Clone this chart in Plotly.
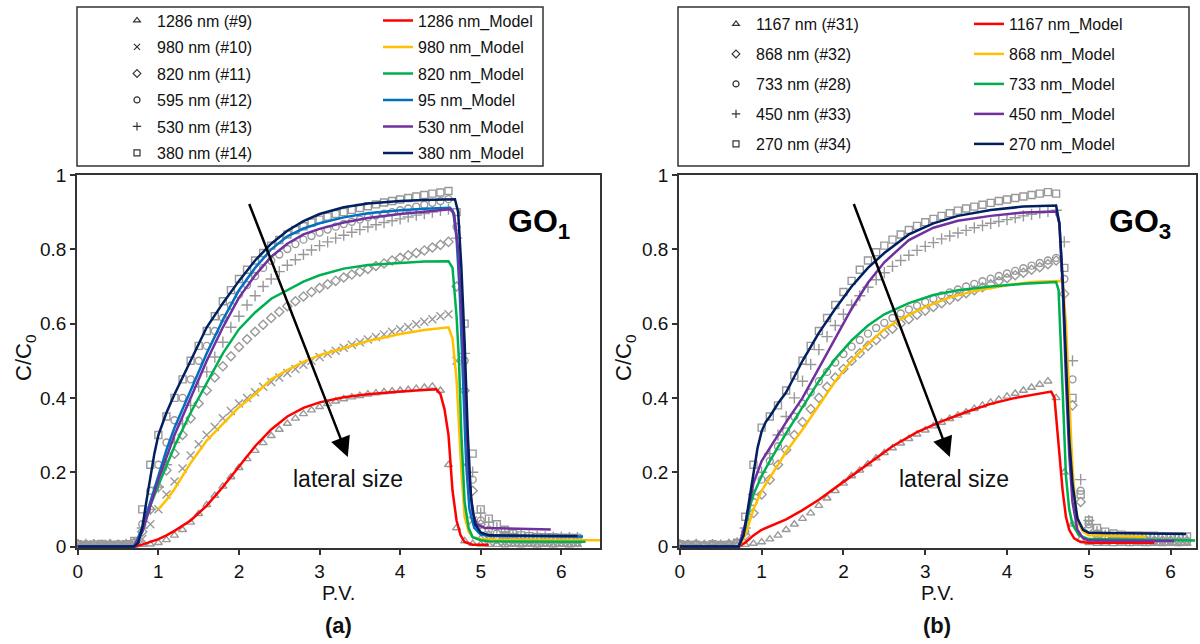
import plotly.graph_objects as go

# ---------------- data ----------------
PV = [0.0, 0.1, 0.2, 0.3, 0.4, 0.5, 0.6, 0.7, 0.8, 0.9,
      1.0, 1.1, 1.2, 1.3, 1.4, 1.5, 1.6, 1.7, 1.8, 1.9,
      2.0, 2.1, 2.2, 2.3, 2.4, 2.5, 2.6, 2.7, 2.8, 2.9,
      3.0, 3.1, 3.2, 3.3, 3.4, 3.5, 3.6, 3.7, 3.8, 3.9,
      4.0, 4.1, 4.2, 4.3, 4.4, 4.5, 4.6, 4.7, 4.8, 4.9,
      5.0, 5.1, 5.2, 5.3, 5.4, 5.5, 5.6, 5.7, 5.8, 5.9, 6.0, 6.1, 6.2]

# GO1 experimental data
TRI_L = [.008, .004, .007, .003, .006, .004, .005, .003, .005, .006,
         .01, .018, .03, .045, .065, .088, .112, .137, .162, .187,
         .212, .236, .258, .279, .298, .315, .331, .345, .357, .367,
         .376, .384, .391, .397, .402, .406, .41, .413, .416, .418,
         .42, .422, .425, .428, .431, .42, .22, .05, .015, .008,
         .006, .005, .005, .004, .005, .004, .005, .004, .005, .004, .005, .004, .005]
X_L = [.005, .003, .006, .004, .005, .003, .006, .008, .02, .06,
       .1, .14, .175, .21, .245, .275, .3, .322, .345, .365,
       .385, .4, .415, .43, .443, .455, .467, .478, .489, .5,
       .51, .519, .527, .535, .543, .55, .557, .564, .571, .578,
       .585, .591, .598, .605, .612, .62, .625, .5, .22, .07,
       .03, .02, .015, .012, .011, .01, .01, .009, .01, .009, .01, .009, .01]
D_L = [.006, .004, .005, .003, .006, .004, .005, .01, .04, .1,
       .16, .205, .25, .3, .345, .385, .42, .455, .485, .512,
       .537, .558, .578, .597, .615, .632, .647, .66, .673, .685,
       .696, .706, .715, .724, .732, .74, .747, .755, .762, .77,
       .777, .784, .79, .797, .805, .812, .82, .7, .42, .15,
       .06, .03, .02, .015, .013, .012, .012, .011, .012, .011, .012, .011, .012]
C_L = [.005, .006, .004, .005, .003, .006, .005, .01, .06, .15,
       .22, .28, .34, .4, .45, .5, .54, .58, .615, .648,
       .678, .704, .728, .75, .769, .786, .801, .814, .826, .836,
       .845, .853, .861, .868, .874, .88, .886, .891, .896, .9,
       .905, .91, .915, .92, .925, .93, .935, .86, .5, .18,
       .07, .045, .035, .03, .025, .022, .02, .02, .019, .02, .019, .02, .019]
P_L = [.004, .006, .005, .003, .005, .004, .006, .01, .05, .1,
       .16, .22, .28, .33, .38, .43, .47, .51, .55, .59,
       .62, .65, .675, .7, .72, .74, .757, .772, .786, .798,
       .81, .82, .83, .838, .846, .853, .86, .866, .872, .877,
       .882, .887, .892, .896, .9, .905, .908, .83, .52, .2,
       .09, .065, .05, .04, .035, .03, .028, .027, .026, .025, .025, .024, .024]
S_L = [.006, .004, .005, .007, .004, .005, .006, .015, .1, .22,
       .3, .35, .4, .45, .5, .54, .58, .62, .66, .69,
       .72, .745, .77, .79, .81, .825, .84, .852, .862, .872,
       .88, .888, .895, .9, .906, .911, .916, .921, .926, .93,
       .934, .938, .942, .946, .95, .953, .957, .9, .6, .25,
       .1, .075, .06, .045, .035, .03, .028, .026, .025, .025, .024, .024, .023]

# GO3 experimental data
TRI_R = [.006, .004, .007, .003, .005, .004, .006, .004, .005, .008,
         .012, .02, .03, .045, .06, .075, .09, .11, .13, .15,
         .17, .19, .205, .222, .238, .252, .265, .278, .29, .302,
         .313, .324, .334, .344, .353, .362, .371, .38, .388, .396,
         .404, .412, .42, .428, .436, .445, .4, .2, .06, .02,
         .01, .008, .008, .007, .008, .007, .008, .007, .008, .007, .008, .007, .008]
D_R = [.005, .003, .006, .004, .005, .003, .006, .008, .03, .09,
       .14, .18, .22, .26, .3, .335, .37, .4, .43, .455,
       .478, .5, .52, .54, .556, .572, .586, .6, .612, .624,
       .635, .645, .655, .664, .673, .682, .69, .698, .706, .714,
       .722, .73, .737, .745, .752, .76, .77, .68, .38, .12,
       .05, .03, .022, .02, .018, .018, .017, .017, .016, .016, .016, .015, .015]
C_R = [.004, .006, .005, .003, .006, .004, .005, .009, .04, .12,
       .18, .23, .27, .31, .35, .385, .415, .445, .47, .495,
       .518, .538, .556, .573, .588, .602, .615, .627, .638, .648,
       .658, .667, .676, .684, .692, .7, .707, .714, .721, .728,
       .735, .742, .749, .756, .763, .77, .777, .72, .45, .15,
       .06, .035, .025, .02, .018, .017, .016, .016, .015, .015, .015, .014, .014]
P_R = [.005, .004, .006, .003, .005, .004, .006, .01, .05, .14,
       .2, .25, .3, .35, .4, .445, .49, .53, .565, .595,
       .625, .65, .675, .698, .718, .737, .754, .77, .784, .797,
       .808, .818, .828, .836, .844, .851, .858, .864, .87, .875,
       .88, .885, .89, .894, .898, .902, .905, .82, .5, .18,
       .07, .04, .03, .025, .022, .02, .02, .019, .019, .018, .018, .018, .017]
S_R = [.006, .004, .005, .003, .006, .004, .005, .01, .08, .22,
       .32, .35, .38, .42, .46, .5, .54, .58, .615, .65,
       .685, .715, .745, .77, .792, .81, .826, .84, .852, .863,
       .873, .882, .89, .897, .904, .91, .915, .92, .925, .93,
       .934, .938, .942, .946, .95, .954, .95, .75, .4, .14,
       .07, .05, .04, .035, .032, .03, .03, .029, .029, .028, .028, .028, .027]

# GO1 model curves
M1286_X = [0, 0.7, 0.8, 0.9, 1.0, 1.1, 1.2, 1.4, 1.6, 1.8, 2.0, 2.2, 2.4, 2.6, 2.8, 3.0, 3.3, 3.6, 4.0, 4.3,
           4.45, 4.5, 4.55, 4.6, 4.65, 4.7, 4.75, 4.8, 4.9, 5.1]
M1286_Y = [0, 0, 0.005, 0.012, 0.02, 0.03, 0.042, 0.07, 0.11, 0.16, 0.215, 0.27, 0.315, 0.35, 0.373, 0.388,
           0.402, 0.41, 0.417, 0.421, 0.423, 0.41, 0.37, 0.3, 0.15, 0.07, 0.03, 0.012, 0.005, 0.005]
M980_X = [1.0, 1.1, 1.2, 1.4, 1.6, 1.8, 2.0, 2.2, 2.4, 2.6, 2.8, 3.0, 3.3, 3.6, 4.0, 4.3, 4.6,
          4.65, 4.7, 4.73, 4.76, 4.8, 4.85, 4.9, 5.0, 5.2, 6.48]
M980_Y = [0.1, 0.125, 0.155, 0.225, 0.285, 0.33, 0.375, 0.41, 0.45, 0.475, 0.497, 0.515, 0.535, 0.553,
          0.572, 0.583, 0.59, 0.56, 0.45, 0.33, 0.2, 0.08, 0.04, 0.025, 0.02, 0.018, 0.017]
M820_X = [0, 0.7, 0.8, 0.9, 1.0, 1.1, 1.2, 1.4, 1.6, 1.8, 2.0, 2.2, 2.4, 2.6, 2.8, 3.0, 3.3, 3.6, 4.0, 4.3,
          4.6, 4.65, 4.7, 4.73, 4.76, 4.8, 4.85, 4.9, 5.0, 5.1, 6.3]
M820_Y = [0, 0, 0.04, 0.11, 0.165, 0.22, 0.27, 0.36, 0.44, 0.52, 0.585, 0.63, 0.667, 0.69, 0.713, 0.73,
          0.748, 0.758, 0.764, 0.767, 0.768, 0.75, 0.62, 0.5, 0.3, 0.12, 0.05, 0.025, 0.017, 0.014, 0.013]
M595_X = [0, 0.7, 0.8, 0.9, 1.0, 1.1, 1.2, 1.4, 1.6, 1.8, 2.0, 2.2, 2.4, 2.6, 2.8, 3.0, 3.3, 3.6, 4.0, 4.3,
          4.62, 4.66, 4.7, 4.74, 4.78, 4.82, 4.86, 4.92, 5.0, 5.1, 6.27]
M595_Y = [0, 0, 0.05, 0.12, 0.19, 0.26, 0.32, 0.42, 0.52, 0.61, 0.69, 0.75, 0.8, 0.835, 0.856, 0.87,
          0.886, 0.897, 0.905, 0.909, 0.912, 0.9, 0.83, 0.68, 0.45, 0.22, 0.1, 0.05, 0.032, 0.029, 0.027]
M530_X = [0, 0.7, 0.8, 0.9, 1.0, 1.1, 1.2, 1.4, 1.6, 1.8, 2.0, 2.2, 2.4, 2.6, 2.8, 3.0, 3.3, 3.6, 4.0, 4.3,
          4.62, 4.67, 4.72, 4.77, 4.81, 4.85, 4.9, 4.95, 5.05, 5.87]
M530_Y = [0, 0, 0.04, 0.11, 0.18, 0.24, 0.3, 0.4, 0.5, 0.59, 0.67, 0.73, 0.78, 0.815, 0.84, 0.855,
          0.872, 0.884, 0.895, 0.901, 0.908, 0.895, 0.8, 0.6, 0.4, 0.2, 0.09, 0.06, 0.05, 0.046]
M380_X = [0, 0.7, 0.75, 0.8, 0.85, 0.9, 0.95, 1.0, 1.1, 1.2, 1.4, 1.6, 1.8, 2.0, 2.2, 2.4, 2.6, 2.8, 3.0,
          3.3, 3.6, 4.0, 4.3, 4.68, 4.72, 4.76, 4.8, 4.84, 4.88, 4.93, 5.0, 5.1, 6.2]
M380_Y = [0, 0, 0.01, 0.05, 0.12, 0.19, 0.25, 0.3, 0.36, 0.41, 0.5, 0.59, 0.655, 0.715, 0.77, 0.815,
          0.85, 0.876, 0.895, 0.913, 0.923, 0.93, 0.933, 0.935, 0.9, 0.75, 0.55, 0.3, 0.13, 0.06, 0.038,
          0.03, 0.028]

# GO3 model curves
M1167_X = [0, 0.72, 0.8, 0.9, 1.0, 1.1, 1.3, 1.5, 1.7, 2.0, 2.3, 2.6, 2.9, 3.2, 3.5, 3.8, 4.1, 4.3, 4.54,
           4.58, 4.63, 4.68, 4.72, 4.76, 4.82, 4.9, 5.0, 5.8]
M1167_Y = [0, 0, 0.01, 0.03, 0.045, 0.055, 0.073, 0.098, 0.126, 0.174, 0.222, 0.27, 0.308, 0.337, 0.362,
           0.384, 0.4, 0.408, 0.417, 0.4, 0.28, 0.15, 0.08, 0.045, 0.022, 0.012, 0.01, 0.01]
M868_X = [0, 0.72, 0.8, 0.86, 0.9, 1.0, 1.1, 1.3, 1.5, 1.7, 1.9, 2.1, 2.3, 2.5, 2.7, 3.0, 3.3, 3.6, 4.0,
          4.3, 4.68, 4.72, 4.76, 4.8, 4.84, 4.88, 4.93, 5.0, 5.7]
M868_Y = [0, 0, 0.03, 0.07, 0.1, 0.15, 0.185, 0.255, 0.315, 0.38, 0.445, 0.5, 0.545, 0.585, 0.612, 0.645,
          0.67, 0.688, 0.703, 0.712, 0.715, 0.6, 0.39, 0.21, 0.1, 0.06, 0.04, 0.03, 0.026]
M733_X = [0, 0.72, 0.8, 0.86, 0.9, 1.0, 1.1, 1.3, 1.5, 1.7, 1.9, 2.1, 2.3, 2.5, 2.8, 3.1, 3.4, 3.8, 4.2,
          4.6, 4.63, 4.66, 4.68, 4.72, 4.76, 4.8, 4.88, 5.0, 6.3]
M733_Y = [0, 0, 0.05, 0.11, 0.14, 0.19, 0.23, 0.305, 0.375, 0.445, 0.505, 0.555, 0.595, 0.625, 0.655,
          0.677, 0.69, 0.7, 0.707, 0.712, 0.69, 0.55, 0.42, 0.19, 0.1, 0.06, 0.03, 0.02, 0.016]
M450_X = [0, 0.72, 0.8, 0.86, 0.9, 1.0, 1.1, 1.3, 1.5, 1.7, 1.9, 2.1, 2.3, 2.5, 2.8, 3.1, 3.4, 3.8, 4.2,
          4.6, 4.64, 4.68, 4.72, 4.76, 4.8, 4.86, 4.93, 5.0, 6.04]
M450_Y = [0, 0, 0.06, 0.13, 0.17, 0.23, 0.265, 0.335, 0.4, 0.48, 0.56, 0.64, 0.71, 0.765, 0.825, 0.858,
          0.877, 0.89, 0.899, 0.902, 0.87, 0.7, 0.45, 0.25, 0.12, 0.045, 0.022, 0.016, 0.015]
M270_X = [0, 0.72, 0.78, 0.83, 0.87, 0.91, 0.95, 1.0, 1.05, 1.1, 1.2, 1.3, 1.5, 1.7, 1.9, 2.1, 2.3, 2.5,
          2.8, 3.1, 3.4, 3.8, 4.2, 4.6, 4.64, 4.68, 4.72, 4.76, 4.8, 4.86, 4.93, 5.0, 6.19]
M270_Y = [0, 0, 0.03, 0.1, 0.16, 0.22, 0.265, 0.31, 0.335, 0.35, 0.385, 0.415, 0.5, 0.575, 0.64, 0.7,
          0.75, 0.79, 0.84, 0.87, 0.89, 0.906, 0.915, 0.918, 0.87, 0.72, 0.48, 0.29, 0.17, 0.076, 0.045,
          0.037, 0.034]

ARROW_TAIL = (2.12, 0.926)
ARROW_HEAD = (3.35, 0.241)

# ---------------- styling ----------------
W, H = 1200, 644
GRAY = "#999999"
RED, YEL, GRN, BLU, PUR, NAV = "#ff0000", "#ffc000", "#00b050", "#0070c0", "#7030a0", "#002060"
NARROW = "Liberation Sans Narrow, Arial Narrow, Liberation Sans, Arial"
TICKFONT = dict(family=NARROW, size=19, color="#111")
LEGFONT = dict(family="Liberation Sans, Arial", size=16, color="#111")


def fx(p):
    return p / W


def fy(p):
    return 1 - p / H


fig = go.Figure()

exp_left = [
    ("1286 nm (#9)", TRI_L, "triangle-up-open"),
    ("980 nm (#10)", X_L, "x-thin-open"),
    ("820 nm (#11)", D_L, "diamond-open"),
    ("595 nm (#12)", C_L, "circle-open"),
    ("530 nm (#13)", P_L, "cross-thin-open"),
    ("380 nm (#14)", S_L, "square-open"),
]
exp_right = [
    ("1167 nm (#31)", TRI_R, "triangle-up-open"),
    ("868 nm (#32)", D_R, "diamond-open"),
    ("733 nm (#28)", C_R, "circle-open"),
    ("450 nm (#33)", P_R, "cross-thin-open"),
    ("270 nm (#34)", S_R, "square-open"),
]
mod_left = [
    ("1286 nm_Model", M1286_X, M1286_Y, RED),
    ("980 nm_Model", M980_X, M980_Y, YEL),
    ("820 nm_Model", M820_X, M820_Y, GRN),
    ("95 nm_Model", M595_X, M595_Y, BLU),
    ("530 nm_Model", M530_X, M530_Y, PUR),
    ("380 nm_Model", M380_X, M380_Y, NAV),
]
mod_right = [
    ("1167 nm_Model", M1167_X, M1167_Y, RED),
    ("868 nm_Model", M868_X, M868_Y, YEL),
    ("733 nm_Model", M733_X, M733_Y, GRN),
    ("450 nm_Model", M450_X, M450_Y, PUR),
    ("270 nm_Model", M270_X, M270_Y, NAV),
]


def add_exp(items, xa, ya, leg, tag):
    for i, (name, ys, sym) in enumerate(items):
        size = 8 if "thin" in sym else 7
        fig.add_trace(go.Scatter(x=PV, y=ys, mode="markers", xaxis=xa, yaxis=ya, showlegend=False,
                                 marker=dict(symbol=sym, size=size, color=GRAY, line=dict(color=GRAY, width=1.4))))
        # legend entry (dark symbol)
        fig.add_trace(go.Scatter(x=[None], y=[None], mode="markers", xaxis=xa, yaxis=ya, name=name,
                                 legend=leg, legendgroup=f"{tag}{i}",
                                 marker=dict(symbol=sym, size=6, color="#333", line=dict(color="#333", width=1.2))))


def add_mod(items, xa, ya, leg, tag):
    for i, (name, xs, ys, col) in enumerate(items):
        fig.add_trace(go.Scatter(x=xs, y=ys, mode="lines", xaxis=xa, yaxis=ya, name=name,
                                 legend=leg, legendgroup=f"{tag}{i}",
                                 line=dict(color=col, width=2.5)))


add_exp(exp_left, "x", "y", "legend", "el")
add_exp(exp_right, "x2", "y2", "legend3", "er")
add_mod(mod_left, "x", "y", "legend2", "ml")
add_mod(mod_right, "x2", "y2", "legend4", "mr")

ytop, ybot = 175, 548
axis_common = dict(showline=True, mirror=True, linecolor="#333", linewidth=1.5, showgrid=False,
                   zeroline=False, ticks="outside", ticklen=5, tickcolor="#333", tickwidth=1.5,
                   tickfont=TICKFONT, automargin=False)
yvals = [0, 0.2, 0.4, 0.6, 0.8, 1.0]
ytext = ["0", "0.2", "0.4", "0.6", "0.8", "1"]

fig.update_layout(
    width=W, height=H, margin=dict(l=0, r=0, t=0, b=0),
    paper_bgcolor="white", plot_bgcolor="white", template="none",
    xaxis=dict(domain=[fx(77), fx(600)], range=[-0.01, 6.48], tickvals=[0, 1, 2, 3, 4, 5, 6],
               anchor="y", **axis_common),
    yaxis=dict(domain=[fy(ybot), fy(ytop)], range=[-0.004, 1.0], tickvals=yvals, ticktext=ytext,
               anchor="x", **axis_common),
    xaxis2=dict(domain=[fx(679), fx(1196)], range=[-0.01, 6.31], tickvals=[0, 1, 2, 3, 4, 5, 6],
                anchor="y2", **axis_common),
    yaxis2=dict(domain=[fy(ybot), fy(ytop)], range=[-0.004, 1.0], tickvals=yvals, ticktext=ytext,
                anchor="x2", **axis_common),
)

leg_common = dict(xanchor="left", yanchor="top", bgcolor="rgba(0,0,0,0)", borderwidth=0, font=LEGFONT,
                  traceorder="grouped", itemwidth=30, orientation="v")
fig.update_layout(
    legend=dict(x=fx(117), y=fy(3.5), tracegroupgap=2.7, **leg_common),
    legend2=dict(x=fx(378), y=fy(3.5), tracegroupgap=2.7, **leg_common),
    legend3=dict(x=fx(716), y=fy(7), tracegroupgap=6.2, **leg_common),
    legend4=dict(x=fx(969), y=fy(7), tracegroupgap=6.2, **leg_common),
)

shapes = [
    dict(type="rect", xref="paper", yref="paper", x0=fx(77), x1=fx(543), y0=fy(166), y1=fy(7),
         line=dict(color="#333", width=1.5)),
    dict(type="rect", xref="paper", yref="paper", x0=fx(678), x1=fx(1189), y0=fy(166), y1=fy(7),
         line=dict(color="#333", width=1.5)),
]
fig.update_layout(shapes=shapes)

ann = []
for cx, ax_suffix, sub, panel in [(338, "", "1", "(a)"), (937, "2", "3", "(b)")]:
    xr = "x" + ax_suffix
    yr = "y" + ax_suffix
    ann.append(dict(x=fx(cx), y=fy(593), xref="paper", yref="paper", text="P.V.", showarrow=False,
                    xanchor="center", yanchor="middle",
                    font=dict(family=NARROW, size=20, color="#111")))
    ann.append(dict(x=fx(cx), y=fy(625), xref="paper", yref="paper", text=f"<b>{panel}</b>", showarrow=False,
                    xanchor="center", yanchor="middle",
                    font=dict(family=NARROW, size=22, color="#111")))
    ann.append(dict(x=3.35, y=0.183, xref=xr, yref=yr, text="lateral size", showarrow=False,
                    xanchor="center", yanchor="middle",
                    font=dict(family=NARROW, size=23, color="#111")))
    ann.append(dict(x=5.72 if sub == "1" else 5.62, y=0.87, xref=xr, yref=yr,
                    text=f"<b>GO<sub>{sub}</sub></b>", showarrow=False,
                    xanchor="center", yanchor="middle",
                    font=dict(family="Liberation Sans, Arial", size=32, color="#000")))
    ann.append(dict(x=ARROW_HEAD[0] if sub == "1" else 3.3, y=ARROW_HEAD[1], xref=xr, yref=yr,
                    ax=ARROW_TAIL[0], ay=ARROW_TAIL[1], axref=xr, ayref=yr, text="", showarrow=True,
                    arrowhead=2, arrowsize=1.6, arrowwidth=2.5, arrowcolor="#000"))
ann.append(dict(x=fx(25), y=fy(358), xref="paper", yref="paper", text="C/C<sub>0</sub>", textangle=-90,
                xanchor="center", yanchor="middle",
                showarrow=False, font=dict(family="Liberation Sans, Arial", size=22, color="#111")))
ann.append(dict(x=fx(625), y=fy(358), xref="paper", yref="paper", text="C/C<sub>0</sub>", textangle=-90,
                xanchor="center", yanchor="middle",
                showarrow=False, font=dict(family="Liberation Sans, Arial", size=22, color="#111")))
fig.update_layout(annotations=ann)

fig.write_html("out.html")
